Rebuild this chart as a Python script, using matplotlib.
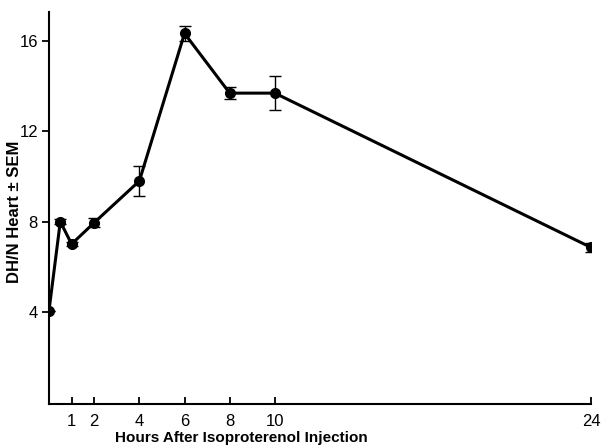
import matplotlib
matplotlib.use("Agg")
import matplotlib.pyplot as plt

hours = [0, 0.5, 1, 2, 4, 6, 8, 10, 24]
dhn = [4.05, 8.0, 7.0, 7.95, 9.8, 16.35, 13.7, 13.7, 6.85]
sem = [0.0, 0.1, 0.1, 0.2, 0.65, 0.35, 0.25, 0.75, 0.22]
xticks = [1, 2, 4, 6, 8, 10, 24]
yticks = [4, 8, 12, 16]

plt.rcParams['font.family'] = ['Liberation Sans', 'DejaVu Sans']

fig = plt.figure(figsize=(6.05, 4.45), dpi=100)
ax = fig.add_axes([0.081, 0.092, 0.896, 0.881])

ax.errorbar(hours, dhn, yerr=sem, color='black', lw=2.2, marker='o', ms=7,
            ecolor='black', elinewidth=1.0, capsize=4, capthick=1.0)

ax.set_xlim(0, 24)
ax.set_ylim(-0.1, 17.3)
ax.set_xticks(xticks)
ax.set_yticks(yticks)
ax.spines['top'].set_visible(False)
ax.spines['right'].set_visible(False)
for s in ('left', 'bottom'):
    ax.spines[s].set_linewidth(1.5)
ax.tick_params(axis='x', direction='in', length=5, width=1.3, labelsize=12, pad=7)
ax.tick_params(axis='y', direction='out', length=5, width=1.3, labelsize=12, pad=3)
ax.set_xlabel('Hours After Isoproterenol Injection', fontsize=11, fontweight='bold')
ax.xaxis.set_label_coords(0.355, -0.068)
ax.set_ylabel('DH/N Heart ± SEM', fontsize=12, fontweight='bold')
ax.yaxis.set_label_coords(-0.05, 0.49)

fig.savefig('out.png', dpi=100)
